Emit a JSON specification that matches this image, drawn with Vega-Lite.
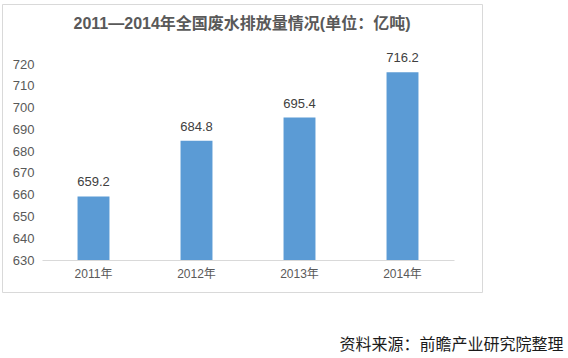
{
  "$schema": "https://vega.github.io/schema/vega-lite/v6.json",
  "autosize": "none",
  "width": 480,
  "height": 288,
  "padding": {"left": 2, "top": 4, "right": 86, "bottom": 66},
  "background": "#ffffff",
  "title": {
    "text": "2011—2014年全国废水排放量情况(单位：亿吨)",
    "font": "Liberation Sans, Noto Sans CJK SC",
    "fontSize": 16,
    "fontWeight": "bold",
    "color": "#595959",
    "anchor": "middle",
    "frame": "group",
    "baseline": "middle",
    "offset": -36
  },
  "data": {
    "values": [
      {"year": "2011年", "value": 659.2},
      {"year": "2012年", "value": 684.8},
      {"year": "2013年", "value": 695.4},
      {"year": "2014年", "value": 716.2}
    ]
  },
  "encoding": {
    "x": {
      "field": "year",
      "type": "nominal",
      "sort": null,
      "scale": {"range": [40, 452], "paddingInner": 0.69, "paddingOuter": 0.345},
      "axis": {
        "orient": "bottom",
        "offset": -32,
        "title": "资料来源：前瞻产业研究院整理",
        "titleFont": "Liberation Sans, Noto Sans CJK SC",
        "titleFontSize": 16,
        "titleFontWeight": "normal",
        "titleColor": "#1a1a1a",
        "titleAnchor": "end",
        "titleAlign": "right",
        "titleBaseline": "alphabetic",
        "titleX": 561,
        "titleY": 89,
        "labelAngle": 0,
        "labelFont": "Liberation Sans, Noto Sans CJK SC",
        "labelFontSize": 12,
        "labelColor": "#595959",
        "labelPadding": 8,
        "ticks": false,
        "domainColor": "#d9d9d9",
        "domainWidth": 1,
        "grid": false
      }
    },
    "y": {
      "field": "value",
      "type": "quantitative",
      "scale": {"domain": [630, 720], "range": [256, 60], "zero": false, "nice": false},
      "axis": {
        "orient": "left",
        "offset": -40,
        "title": null,
        "values": [630, 640, 650, 660, 670, 680, 690, 700, 710, 720],
        "labelFont": "Liberation Sans, Noto Sans CJK SC",
        "labelFontSize": 13,
        "labelColor": "#595959",
        "labelPadding": 8,
        "ticks": false,
        "domain": false,
        "grid": false
      }
    }
  },
  "layer": [
    {
      "mark": {"type": "bar", "color": "#5b9bd5"},
      "encoding": {"y2": {"datum": 630}}
    },
    {
      "mark": {
        "type": "text",
        "baseline": "bottom",
        "dy": -7,
        "font": "Liberation Sans, Noto Sans CJK SC",
        "fontSize": 13,
        "color": "#404040"
      },
      "encoding": {"text": {"field": "value", "type": "quantitative", "format": ".1f"}}
    }
  ],
  "config": {
    "view": {"stroke": "#d9d9d9", "strokeWidth": 1}
  }
}
